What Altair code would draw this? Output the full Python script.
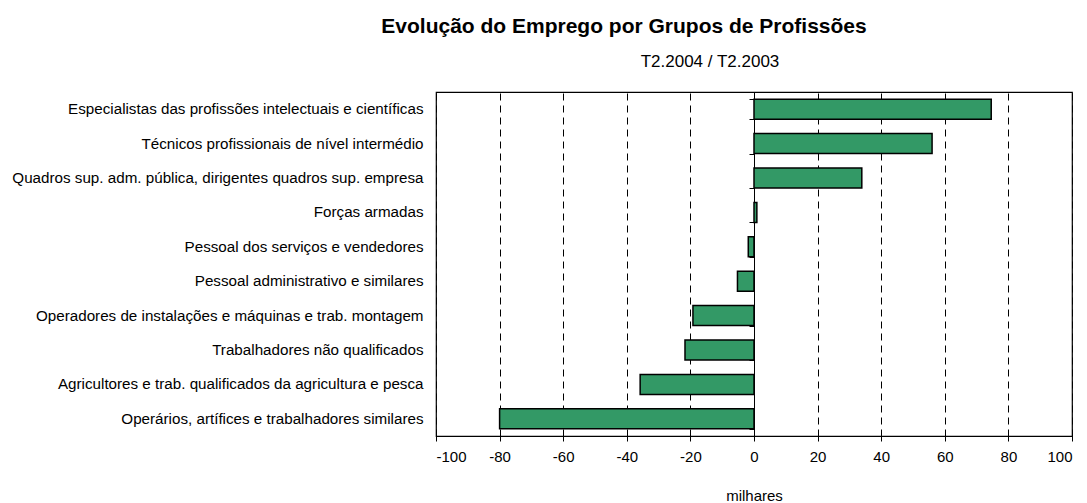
import altair as alt
import pandas as pd

categories = [
    "Especialistas das profissões intelectuais e científicas",
    "Técnicos profissionais de nível intermédio",
    "Quadros sup. adm. pública, dirigentes quadros sup. empresa",
    "Forças armadas",
    "Pessoal dos serviços e vendedores",
    "Pessoal administrativo e similares",
    "Operadores de instalações e máquinas e trab. montagem",
    "Trabalhadores não qualificados",
    "Agricultores e trab. qualificados da agricultura e pesca",
    "Operários, artífices e trabalhadores similares",
]
values = [74.6, 56.0, 33.9, 0.9, -1.8, -5.2, -19.2, -21.7, -35.8, -80.0]
x_ticks = [-100, -80, -60, -40, -20, 0, 20, 40, 60, 80, 100]

title_text = "Evolução do Emprego por Grupos de Profissões"
subtitle_text = "T2.2004 / T2.2003"
x_title = "milhares"

FONT = "Liberation Sans"
df = pd.DataFrame({"cat": categories, "val": values})

xscale = alt.Scale(domain=[-100, 100], nice=False, zero=False)
yscale = alt.Scale(paddingInner=0.42, paddingOuter=0.21)

bars = alt.Chart(df).mark_bar(
    color="#339966", stroke="black", strokeWidth=1.5
).encode(
    x=alt.X("val:Q", scale=xscale,
            axis=alt.Axis(values=x_ticks, title=x_title, grid=True,
                          gridColor="black", gridDash=[7, 5], gridWidth=1,
                          domainColor="black", tickColor="black", tickSize=5,
                          labelExpr="replace(datum.label, '\u2212', '-')",
                          labelFont=FONT, labelFontSize=15, labelColor="black",
                          labelPadding=8, titleFont=FONT, titleFontSize=15,
                          titleFontWeight="normal", titleColor="black",
                          titleBaseline="alphabetic", titleY=64)),
    y=alt.Y("cat:N", sort=categories, scale=yscale,
            axis=alt.Axis(title=None, domain=False, ticks=False,
                          labelFont=FONT, labelFontSize=15.2, labelColor="black",
                          labelPadding=13, labelLimit=600, orient="left")),
)

zero_axis = alt.Chart(df).mark_rule(opacity=0).encode(
    y=alt.Y("cat:N", sort=categories, scale=yscale,
            axis=alt.Axis(title=None, labels=False, domain=True,
                          domainColor="black", domainWidth=1,
                          ticks=True, tickColor="black", tickSize=5,
                          tickBand="extent", orient="left", offset=-318,
                          grid=False)),
)

titles = alt.Chart(pd.DataFrame({"t": [title_text]})).mark_text(
    font=FONT, fontSize=21, fontWeight="bold", color="black",
    baseline="alphabetic", align="center"
).encode(text="t:N", x=alt.value(188), y=alt.value(-59))

sub = alt.Chart(pd.DataFrame({"t": [subtitle_text]})).mark_text(
    font=FONT, fontSize=17, color="black", baseline="alphabetic", align="center"
).encode(text="t:N", x=alt.value(274), y=alt.value(-25))

chart = alt.layer(bars, zero_axis, titles, sub).resolve_axis(y="independent").properties(
    width=636, height=344,
    autosize=alt.AutoSizeParams(type="none"),
    padding={"left": 428, "top": 84, "right": 7, "bottom": 75},
).configure(background="white").configure_view(stroke="black", strokeWidth=1.2)

chart.save("out.html", embed_options={"renderer": "svg", "actions": False})
